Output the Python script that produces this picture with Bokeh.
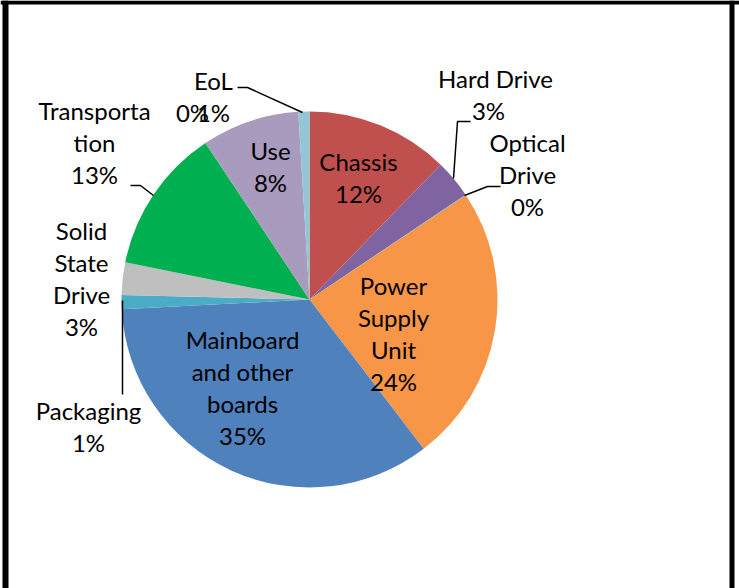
import numpy as np
from bokeh.plotting import figure
from bokeh.models import Range1d, Span, ColumnDataSource
from bokeh.core.properties import value
from bokeh.embed import file_html
from bokeh.resources import INLINE

# ---- data ----
categories = ["Chassis", "Hard Drive", "Optical Drive", "Power Supply Unit",
              "Mainboard and other boards", "Packaging", "Solid State Drive",
              "Transportation", "Use", "EoL"]
shares = [12.3, 3.3, 0.05, 24.0, 34.6, 1.2, 2.8, 12.5, 8.4, 0.95]
pct_labels = ["12%", "3%", "0%", "24%", "35%", "1%", "3%", "13%", "8%", "1%"]
colors = ["#C0504D", "#8064A2", "#4BACC6", "#F79646", "#4F81BD",
          "#4BACC6", "#BFBFBF", "#00B050", "#A99BBD", "#93C6D6"]

W, H = 739, 588
OFF = 0
TEXT_SHIFT = -2


def X(px):
    return px - OFF


def Y(py):
    return H + OFF - py


p = figure(width=W, height=H, output_backend="svg", toolbar_location=None,
           x_axis_type=None, y_axis_type=None, min_border=0,
           x_range=Range1d(0, W), y_range=Range1d(0, H))
p.grid.visible = False
p.outline_line_color = None
p.background_fill_color = "white"
p.border_fill_color = "white"

cx, cy, r = X(309), Y(299), 188
vals = np.array(shares) / np.sum(shares)
cum = np.concatenate([[0], np.cumsum(vals)])
start = np.pi / 2 - cum[:-1] * 2 * np.pi
end = np.pi / 2 - cum[1:] * 2 * np.pi
src = ColumnDataSource(dict(start=start, end=end, color=colors, cat=categories))
p.wedge(x=cx, y=cy, radius=r, start_angle="start", end_angle="end",
        direction="clock", fill_color="color", line_color=None, source=src)

# ---- labels (layout positions in page pixels) ----
label_lines = {
    "Chassis": (["Chassis"], 358, 163),
    "Hard Drive": (["Hard Drive"], 495, 80),
    "Optical Drive": (["Optical", "Drive"], 527, 144),
    "Power Supply Unit": (["Power", "Supply", "Unit"], 393, 287),
    "Mainboard and other boards": (["Mainboard", "and other", "boards"], 242, 341),
    "Packaging": (["Packaging"], 88, 412),
    "Solid State Drive": (["Solid", "State", "Drive"], 81, 232),
    "Transportation": (["Transporta", "tion"], 94, 112),
    "Use": (["Use"], 270, 152),
    "EoL": (["EoL"], 213, 82),
}
pct_pos = {"Hard Drive": 488, "EoL": 213}
LH = 32.0
tx, ty, tt = [], [], []
for cat, pct in zip(categories, pct_labels):
    lines, lx, ly = label_lines[cat]
    ly = ly + TEXT_SHIFT
    for i, ln in enumerate(lines):
        tx.append(X(lx)); ty.append(Y(ly + i * LH)); tt.append(ln)
    px = pct_pos.get(cat, lx)
    tx.append(X(px)); ty.append(Y(ly + len(lines) * LH)); tt.append(pct)
# overlapping extra "0%" near EoL label
tx.append(X(192)); ty.append(Y(82 + TEXT_SHIFT + LH)); tt.append("0%")

p.text(x=tx, y=ty, text=tt, text_align="center", text_baseline="middle",
       text_font=value("Lato"), text_font_size="24px", text_color="black")

# ---- leader lines ----
leaders = [
    [(453, 178), (457, 121), (470, 121)],
    [(464, 195), (487, 186), (500, 186)],
    [(122, 300), (122, 394)],
    [(153, 195), (140, 185), (130, 185)],
    [(302, 112), (247, 87), (237, 87)],
]
for pts in leaders:
    p.line([X(a) for a, b in pts], [Y(b) for a, b in pts],
           line_color="black", line_width=1.5)

# ---- frame border ----
p.add_layout(Span(location=X(5), dimension="height", line_color="black", line_width=6))
p.add_layout(Span(location=Y(2), dimension="width", line_color="black", line_width=4))
p.add_layout(Span(location=X(731.5), dimension="height", line_color="black", line_width=5))

open("out.html", "w").write(file_html(p, INLINE))
